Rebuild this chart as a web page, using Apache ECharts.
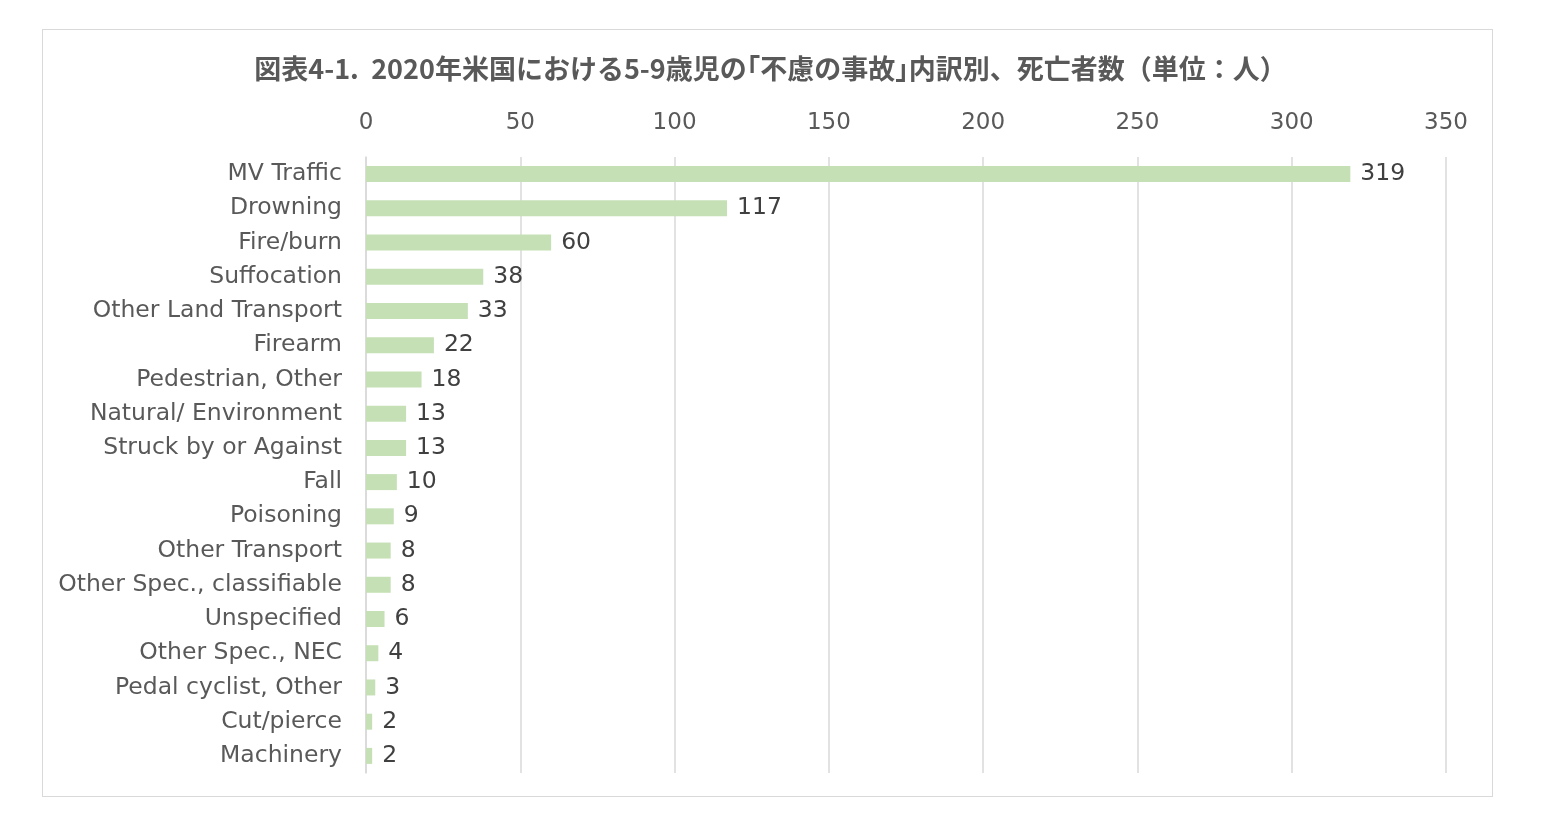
<!DOCTYPE html>
<html>
<head>
<meta charset="utf-8">
<script src="https://cdn.jsdelivr.net/npm/echarts@6/dist/echarts.min.js"></script>
<style>
  html, body { margin: 0; padding: 0; background: #fff; }
  #frame { position: absolute; left: 42px; top: 29px; width: 1449px; height: 766px; border: 1.5px solid #d9d9d9; }
  #chart { position: absolute; left: 0; top: 0; width: 1541px; height: 826px; }
</style>
</head>
<body>
<div id="frame"></div>
<div id="chart"></div>
<script>
var categories = ['MV Traffic', 'Drowning', 'Fire/burn', 'Suffocation', 'Other Land Transport',
    'Firearm', 'Pedestrian, Other', 'Natural/ Environment', 'Struck by or Against', 'Fall',
    'Poisoning', 'Other Transport', 'Other Spec., classifiable', 'Unspecified', 'Other Spec., NEC',
    'Pedal cyclist, Other', 'Cut/pierce', 'Machinery'];
var deaths = [319, 117, 60, 38, 33, 22, 18, 13, 13, 10, 9, 8, 8, 6, 4, 3, 2, 2];

var chart = echarts.init(document.getElementById('chart'));

var font = 'Verdana, "DejaVu Sans", "Noto Sans CJK JP", sans-serif';

var option = {
    title: {
        text: '図表4-1.  2020年米国における5-9歳児の｢不慮の事故｣内訳別、死亡者数（単位：人）',
        left: 'center',
        top: 50,
        textStyle: { fontFamily: '"Noto Sans CJK JP", sans-serif', fontSize: 27, fontWeight: 'bold', color: '#595959' }
    },
    grid: { left: 366, right: 95, top: 157, bottom: 53 },
    xAxis: {
        type: 'value',
        position: 'top',
        min: 0,
        max: 350,
        interval: 50,
        axisLine: { show: false },
        axisTick: { show: false },
        axisLabel: { fontFamily: font, fontSize: 23, color: '#595959', margin: 22 },
        splitLine: { lineStyle: { color: '#d9d9d9', width: 1.5 } }
    },
    yAxis: {
        type: 'category',
        inverse: true,
        data: categories,
        axisLine: { lineStyle: { color: '#d9d9d9', width: 1.5 } },
        axisTick: { show: false },
        axisLabel: { fontFamily: font, fontSize: 23.5, color: '#595959', margin: 24, padding: [4, 0, 0, 0] }
    },
    series: [{
        type: 'bar',
        data: deaths,
        barWidth: 16,
        itemStyle: { color: '#c5e0b4' },
        label: { show: true, position: 'right', distance: 10, fontFamily: font, fontSize: 23.5, color: '#404040', padding: [4, 0, 0, 0] }
    }]
};

chart.setOption(option);
</script>
</body>
</html>
